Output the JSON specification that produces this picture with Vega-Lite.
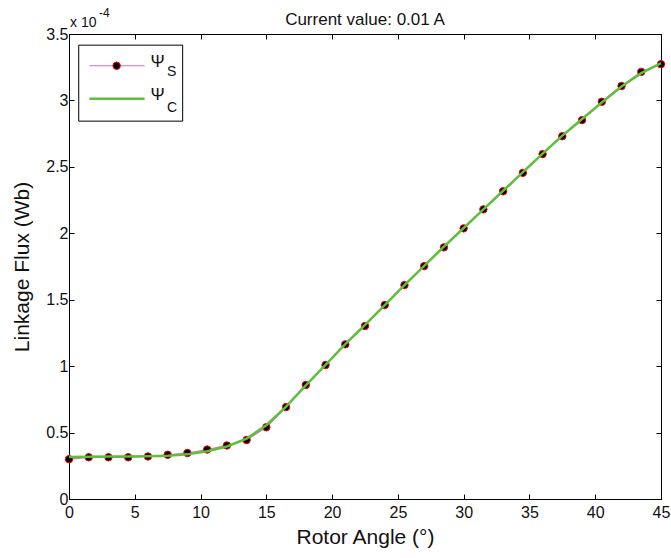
{
  "$schema": "https://vega.github.io/schema/vega-lite/v6.json",
  "width": 592,
  "height": 465,
  "autosize": {"type": "none"},
  "padding": {"left": 69, "top": 34, "right": 10, "bottom": 59},
  "background": "white",
  "config": {
    "font": "Liberation Sans",
    "view": {"stroke": "#000", "strokeWidth": 1},
    "axis": {
      "grid": false,
      "domainColor": "#000",
      "tickColor": "#000",
      "tickSize": -5,
      "labelColor": "#111",
      "titleColor": "#111",
      "labelFont": "Liberation Sans",
      "titleFont": "Liberation Sans",
      "labelFontSize": 16,
      "titleFontSize": 21,
      "titleFontWeight": "normal"
    }
  },
  "title": {
    "text": "Current value: 0.01 A",
    "fontSize": 17,
    "fontWeight": "normal",
    "font": "Liberation Sans",
    "color": "#111",
    "anchor": "middle",
    "frame": "group",
    "baseline": "alphabetic",
    "offset": -35
  },
  "data": {
    "values": [
      {"angle": 0, "psi_s": 3.00e-5, "psi_c": 3.16e-5},
      {"angle": 1.5, "psi_s": 3.14e-5, "psi_c": 3.18e-5},
      {"angle": 3, "psi_s": 3.14e-5, "psi_c": 3.19e-5},
      {"angle": 4.5, "psi_s": 3.14e-5, "psi_c": 3.20e-5},
      {"angle": 6, "psi_s": 3.20e-5, "psi_c": 3.22e-5},
      {"angle": 7.5, "psi_s": 3.33e-5, "psi_c": 3.26e-5},
      {"angle": 9, "psi_s": 3.46e-5, "psi_c": 3.36e-5},
      {"angle": 10.5, "psi_s": 3.72e-5, "psi_c": 3.60e-5},
      {"angle": 12, "psi_s": 4.03e-5, "psi_c": 3.95e-5},
      {"angle": 13.5, "psi_s": 4.44e-5, "psi_c": 4.55e-5},
      {"angle": 15, "psi_s": 5.40e-5, "psi_c": 5.55e-5},
      {"angle": 16.5, "psi_s": 6.92e-5, "psi_c": 6.95e-5},
      {"angle": 18, "psi_s": 8.58e-5, "psi_c": 8.55e-5},
      {"angle": 19.5, "psi_s": 1.008e-4, "psi_c": 1.010e-4},
      {"angle": 21, "psi_s": 1.164e-4, "psi_c": 1.165e-4},
      {"angle": 22.5, "psi_s": 1.302e-4, "psi_c": 1.310e-4},
      {"angle": 24, "psi_s": 1.460e-4, "psi_c": 1.460e-4},
      {"angle": 25.5, "psi_s": 1.610e-4, "psi_c": 1.610e-4},
      {"angle": 27, "psi_s": 1.753e-4, "psi_c": 1.755e-4},
      {"angle": 28.5, "psi_s": 1.894e-4, "psi_c": 1.900e-4},
      {"angle": 30, "psi_s": 2.037e-4, "psi_c": 2.040e-4},
      {"angle": 31.5, "psi_s": 2.180e-4, "psi_c": 2.180e-4},
      {"angle": 33, "psi_s": 2.316e-4, "psi_c": 2.320e-4},
      {"angle": 34.5, "psi_s": 2.455e-4, "psi_c": 2.460e-4},
      {"angle": 36, "psi_s": 2.596e-4, "psi_c": 2.600e-4},
      {"angle": 37.5, "psi_s": 2.731e-4, "psi_c": 2.735e-4},
      {"angle": 39, "psi_s": 2.852e-4, "psi_c": 2.860e-4},
      {"angle": 40.5, "psi_s": 2.990e-4, "psi_c": 2.985e-4},
      {"angle": 42, "psi_s": 3.108e-4, "psi_c": 3.105e-4},
      {"angle": 43.5, "psi_s": 3.215e-4, "psi_c": 3.205e-4},
      {"angle": 45, "psi_s": 3.273e-4, "psi_c": 3.280e-4}
    ]
  },
  "resolve": {"axis": {"x": "independent", "y": "independent"}},
  "layer": [
    {
      "mark": {"type": "line", "color": "#cc77c0", "strokeWidth": 1.2},
      "encoding": {
        "x": {
          "field": "angle", "type": "quantitative",
          "scale": {"domain": [0, 45], "nice": false, "zero": false},
          "axis": {"orient": "bottom", "values": [0, 5, 10, 15, 20, 25, 30, 35, 40, 45], "title": "Rotor Angle (°)", "labelPadding": 10, "titlePadding": 6, "labelFlush": false}
        },
        "y": {
          "field": "psi_s", "type": "quantitative",
          "scale": {"domain": [0, 0.00035], "nice": false, "zero": false},
          "axis": {"orient": "left", "values": [0, 0.00005, 0.0001, 0.00015, 0.0002, 0.00025, 0.0003, 0.00035], "labelExpr": "format(datum.value * 10000, '.1~f')", "title": "Linkage Flux (Wb)", "labelPadding": 6, "titlePadding": 13}
        }
      }
    },
    {
      "mark": {"type": "point", "filled": true, "fill": "#000", "stroke": "#ff0000", "strokeWidth": 1, "size": 55, "opacity": 1},
      "encoding": {
        "x": {"field": "angle", "type": "quantitative", "axis": null},
        "y": {"field": "psi_s", "type": "quantitative", "axis": null}
      }
    },
    {
      "mark": {"type": "line", "color": "#5fbf3a", "strokeWidth": 2.5},
      "encoding": {
        "x": {"field": "angle", "type": "quantitative", "axis": {"orient": "top", "values": [0, 5, 10, 15, 20, 25, 30, 35, 40, 45], "labels": false, "title": null}},
        "y": {"field": "psi_c", "type": "quantitative", "axis": {"orient": "right", "values": [0, 0.00005, 0.0001, 0.00015, 0.0002, 0.00025, 0.0003, 0.00035], "labels": false, "title": null}}
      }
    },
    {
      "data": {"values": [{}]},
      "mark": {"type": "text", "text": "x 10", "align": "left", "baseline": "alphabetic", "fontSize": 14, "color": "#111", "dx": 1, "dy": -7},
      "encoding": {
        "x": {"datum": 0, "type": "quantitative", "axis": null},
        "y": {"datum": 0.00035, "type": "quantitative", "axis": null}
      }
    },
    {
      "data": {"values": [{}]},
      "mark": {"type": "text", "text": "-4", "align": "left", "baseline": "alphabetic", "fontSize": 12, "color": "#111", "dx": 30, "dy": -17},
      "encoding": {
        "x": {"datum": 0, "type": "quantitative", "axis": null},
        "y": {"datum": 0.00035, "type": "quantitative", "axis": null}
      }
    },
    {
      "data": {"values": [{}]},
      "mark": {"type": "rect", "fill": "white", "stroke": "#000", "strokeWidth": 1},
      "encoding": {
        "x": {"datum": 0.74, "type": "quantitative", "axis": null},
        "x2": {"datum": 8.64},
        "y": {"datum": 0.0003416, "type": "quantitative", "axis": null},
        "y2": {"datum": 0.0002844}
      }
    },
    {
      "data": {"values": [{}]},
      "mark": {"type": "rule", "color": "#cc77c0", "strokeWidth": 1.2},
      "encoding": {
        "x": {"datum": 1.55, "type": "quantitative", "axis": null},
        "x2": {"datum": 5.75},
        "y": {"datum": 0.0003261, "type": "quantitative", "axis": null}
      }
    },
    {
      "data": {"values": [{}]},
      "mark": {"type": "point", "filled": true, "fill": "#000", "stroke": "#ff0000", "strokeWidth": 1, "size": 55, "opacity": 1},
      "encoding": {
        "x": {"datum": 3.62, "type": "quantitative", "axis": null},
        "y": {"datum": 0.0003261, "type": "quantitative", "axis": null}
      }
    },
    {
      "data": {"values": [{}]},
      "mark": {"type": "rule", "color": "#5fbf3a", "strokeWidth": 2.5},
      "encoding": {
        "x": {"datum": 1.55, "type": "quantitative", "axis": null},
        "x2": {"datum": 5.75},
        "y": {"datum": 0.0003012, "type": "quantitative", "axis": null}
      }
    },
    {
      "data": {"values": [{}]},
      "mark": {"type": "text", "text": "Ψ", "align": "left", "baseline": "middle", "fontSize": 17, "color": "#111", "dy": -4},
      "encoding": {
        "x": {"datum": 6.2, "type": "quantitative", "axis": null},
        "y": {"datum": 0.0003261, "type": "quantitative", "axis": null}
      }
    },
    {
      "data": {"values": [{}]},
      "mark": {"type": "text", "text": "S", "align": "left", "baseline": "middle", "fontSize": 14, "color": "#111", "dy": 6},
      "encoding": {
        "x": {"datum": 7.45, "type": "quantitative", "axis": null},
        "y": {"datum": 0.0003261, "type": "quantitative", "axis": null}
      }
    },
    {
      "data": {"values": [{}]},
      "mark": {"type": "text", "text": "Ψ", "align": "left", "baseline": "middle", "fontSize": 17, "color": "#111", "dy": -4},
      "encoding": {
        "x": {"datum": 6.2, "type": "quantitative", "axis": null},
        "y": {"datum": 0.0003012, "type": "quantitative", "axis": null}
      }
    },
    {
      "data": {"values": [{}]},
      "mark": {"type": "text", "text": "C", "align": "left", "baseline": "middle", "fontSize": 14, "color": "#111", "dy": 9},
      "encoding": {
        "x": {"datum": 7.45, "type": "quantitative", "axis": null},
        "y": {"datum": 0.0003012, "type": "quantitative", "axis": null}
      }
    }
  ]
}
